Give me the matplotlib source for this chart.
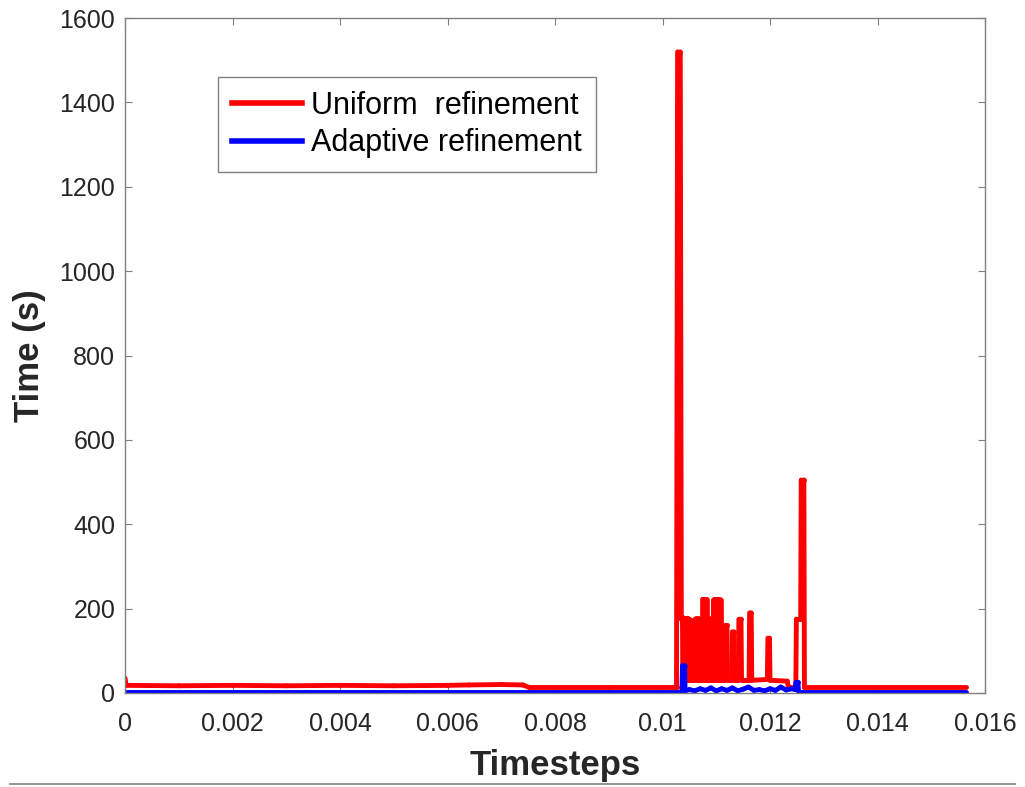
import numpy as np
import matplotlib.pyplot as plt
from matplotlib.lines import Line2D
from matplotlib.collections import LineCollection

plt.rcParams['font.family'] = ['Liberation Sans', 'DejaVu Sans']

# ---------------------------------------------------------------------------
# data (time in s vs. timestep)
# ---------------------------------------------------------------------------
uniform_t = [0.0, 0.00002, 0.0010, 0.0020, 0.0030, 0.0040, 0.0050, 0.0060,
             0.0064, 0.0070, 0.0074, 0.00752, 0.0090, 0.01026,
             0.01028, 0.01033, 0.01035,
             # dense burst (filled-looking block)
             0.01037, 0.01038, 0.01039, 0.01040, 0.01041, 0.01042, 0.01043,
             0.01044, 0.01045, 0.01046, 0.01047, 0.01048, 0.01049, 0.01050,
             0.01051, 0.01052, 0.01053, 0.01054, 0.01055, 0.01056, 0.01057,
             0.01058, 0.01059, 0.01060, 0.01061, 0.01062, 0.01063, 0.01064,
             0.01065, 0.01066, 0.01067, 0.01068, 0.01069, 0.01070, 0.01071,
             0.01072, 0.01073, 0.01074, 0.01075, 0.01076, 0.01077, 0.01078,
             0.01079, 0.01080, 0.01081, 0.01082, 0.01083, 0.01084, 0.01085,
             0.01086, 0.01087, 0.01088, 0.01089, 0.01090, 0.01091, 0.01092,
             0.01093, 0.01094, 0.01095, 0.01096, 0.01097, 0.01098, 0.01099,
             0.01100, 0.01101, 0.01102, 0.01103, 0.01104, 0.01105, 0.01106,
             0.01107, 0.01108, 0.01109,
             # isolated spikes
             0.01111, 0.01116, 0.01117, 0.01120, 0.01121, 0.01129, 0.01130,
             0.01133, 0.01134, 0.01141, 0.01142, 0.01146, 0.01147, 0.01161,
             0.01162, 0.01165, 0.01166, 0.01195, 0.01196, 0.01199, 0.01200,
             0.01232, 0.01234, 0.01248, 0.01249, 0.01257, 0.01258, 0.01263,
             0.01264, 0.01565]
uniform_y = [35, 18, 17, 18, 17, 18, 17, 18,
             19, 20, 19, 13, 13, 13,
             1520, 1520, 175,
             175, 30, 178, 30, 176, 30, 175,
             30, 175, 30, 177, 30, 175, 30,
             174, 30, 172, 30, 168, 30, 165,
             30, 166, 30, 175, 30, 176, 30,
             175, 30, 176, 30, 175, 30, 174,
             30, 175, 30, 222, 30, 221, 30,
             222, 30, 220, 30, 221, 30, 175,
             30, 176, 30, 175, 30, 174, 30,
             175, 30, 220, 30, 222, 30, 221,
             30, 220, 30, 222, 30, 220, 30,
             221, 30, 220,
             30, 30, 160, 160, 30, 30, 145,
             145, 30, 30, 175, 175, 30, 30,
             190, 190, 30, 32, 130, 130, 30,
             28, 15, 15, 175, 175, 505, 505,
             13, 13]

adaptive_t = [0.0, 0.0050, 0.0103, 0.01036, 0.01037, 0.01041, 0.01042,
              0.0105, 0.0106, 0.0107, 0.0108, 0.0109, 0.0110, 0.0111,
              0.0112, 0.0113, 0.0114, 0.0115, 0.0116, 0.0117, 0.0118,
              0.0119, 0.0120, 0.0121, 0.0122, 0.0123, 0.0124, 0.01247,
              0.01248, 0.01252, 0.01253, 0.01565]
adaptive_y = [3, 3, 3, 3, 65, 65, 5,
              8, 5, 10, 6, 12, 5, 10,
              6, 12, 5, 9, 14, 6, 8,
              5, 10, 6, 14, 7, 10, 8,
              25, 25, 3, 3]

x_ticks = [0, 0.002, 0.004, 0.006, 0.008, 0.01, 0.012, 0.014, 0.016]
x_tick_labels = ['0', '0.002', '0.004', '0.006', '0.008', '0.01',
                 '0.012', '0.014', '0.016']
y_ticks = [0, 200, 400, 600, 800, 1000, 1200, 1400, 1600]


def segments(t, y):
    # one segment per consecutive pair so the overlapping strokes of the
    # dense burst do not cancel each other out when rasterised
    pts = np.column_stack([t, y])
    return np.stack([pts[:-1], pts[1:]], axis=1)


# ---------------------------------------------------------------------------
# figure
# ---------------------------------------------------------------------------
fig = plt.figure(figsize=(10.25, 7.87), dpi=100)
ax = fig.add_axes([0.122, 0.1195, 0.839, 0.8575])

ax.add_collection(LineCollection(segments(uniform_t, uniform_y),
                                 colors='#ff0000', linewidths=3.5,
                                 capstyle='round'))
ax.add_collection(LineCollection(segments(adaptive_t, adaptive_y),
                                 colors='#0000ff', linewidths=3.5,
                                 capstyle='round'))

ax.set_xlim(0, 0.016)
ax.set_ylim(0, 1600)
ax.set_xticks(x_ticks)
ax.set_xticklabels(x_tick_labels)
ax.set_yticks(y_ticks)

for s in ax.spines.values():
    s.set_color('#808080')
    s.set_linewidth(1.0)
ax.tick_params(direction='in', length=5, width=0.8, color='#808080',
               labelsize=18, labelcolor='#262626', top=True, right=True)
ax.tick_params(axis='x', pad=14)
ax.tick_params(axis='y', pad=7)

ax.set_xlabel('Timesteps', fontsize=25, fontweight='bold', color='#262626')
ax.set_ylabel('Time (s)', fontsize=25, fontweight='bold', color='#262626')
ax.xaxis.set_label_coords(0.5, -0.083)
ax.yaxis.set_label_coords(-0.092, 0.5)

handles = [Line2D([], [], color='#ff0000', lw=4),
           Line2D([], [], color='#0000ff', lw=4)]
leg = ax.legend(handles, ['Uniform  refinement', 'Adaptive refinement'],
                loc='upper left', bbox_to_anchor=(0.108, 0.913),
                borderaxespad=0, fontsize=22, fancybox=False,
                edgecolor='#808080', framealpha=1, handlelength=2.3,
                handletextpad=0.3, labelspacing=0.25, borderpad=0.45)
leg.get_frame().set_linewidth(1.0)

# thin grey rule along the very bottom of the image
fig.add_artist(Line2D([0.01, 0.99], [0.0038, 0.0038], color='#808080', lw=1.2))

fig.savefig('out.png', dpi=100)
